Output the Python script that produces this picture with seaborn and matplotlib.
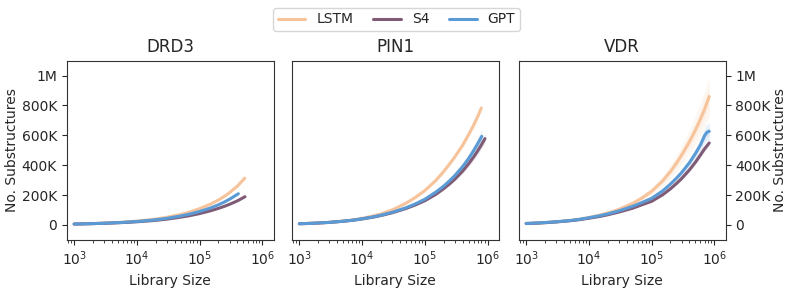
import numpy as np
import pandas as pd
import matplotlib
matplotlib.use("Agg")
import matplotlib.pyplot as plt
import seaborn as sns
from matplotlib.ticker import FixedLocator, FuncFormatter

sns.set_style("ticks")
plt.rcParams['font.family'] = ['DejaVu Sans']

targets = ["DRD3", "PIN1", "VDR"]
models = ["LSTM", "S4", "GPT"]
colors = {"LSTM": "#f6c39b", "S4": "#7f5b76", "GPT": "#5b9bd5"}

# library sizes (x), number of substructures in thousands (y), band half-width in thousands (s)
drd3_lstm_x = [1e3, 1.5e3, 2e3, 3e3, 5e3, 7e3, 1e4, 1.5e4, 2e4, 3e4, 5e4, 7e4, 1e5, 1.5e5, 2e5, 2.5e5, 3e5, 4e5, 5.25e5]
drd3_lstm_y = [6, 7.8, 9.3, 12, 16.5, 20.4, 25.5, 33, 39.5, 51, 70, 87, 109, 140, 167, 192, 216, 260, 313]
drd3_lstm_s = [0, 0, 0, 0, 0, 0, 0, 0, 1, 1, 1, 1, 2, 2, 3, 3, 4, 5, 6]
drd3_gpt_x = [1e3, 1.5e3, 2e3, 3e3, 5e3, 7e3, 1e4, 1.5e4, 2e4, 3e4, 5e4, 7e4, 1e5, 1.5e5, 2e5, 2.5e5, 3e5, 4.15e5]
drd3_gpt_y = [6, 7.6, 9.0, 11.4, 15.5, 18.8, 23.3, 29.6, 34.9, 44, 60, 73, 90, 114, 135, 154, 172, 209]
drd3_gpt_s = [0, 0, 0, 0, 0, 0, 0, 0, 1, 1, 1, 1, 2, 2, 3, 4, 5, 7]
drd3_s4_x = [1e3, 1.5e3, 2e3, 3e3, 5e3, 7e3, 1e4, 1.5e4, 2e4, 3e4, 5e4, 7e4, 1e5, 1.5e5, 2e5, 2.5e5, 3e5, 4e5, 5.3e5]
drd3_s4_y = [6, 7.5, 8.8, 11, 14.5, 17.4, 21.2, 26.5, 31, 38.7, 52, 62.5, 76, 95, 111, 125, 138, 161, 189]
drd3_s4_s = [0, 0, 0, 0, 0, 0, 0, 0, 1, 1, 1, 1, 2, 2, 2, 3, 3, 4, 4]

pin1_lstm_x = [1e3, 1.5e3, 2e3, 3e3, 5e3, 7e3, 1e4, 1.5e4, 2e4, 3e4, 5e4, 7e4, 1e5, 1.5e5, 2e5, 2.5e5, 3e5, 4e5, 5e5, 6e5, 7e5, 7.95e5]
pin1_lstm_y = [8, 10.5, 13, 17.5, 26, 33, 44, 60, 74, 100, 145, 183, 230, 298, 358, 410, 455, 533, 605, 668, 728, 783]
pin1_lstm_s = [0, 0, 0, 0, 0, 1, 1, 2, 2, 3, 4, 5, 6, 8, 10, 12, 14, 17, 20, 22, 24, 26]
pin1_gpt_x = [1e3, 1.5e3, 2e3, 3e3, 5e3, 7e3, 1e4, 1.5e4, 2e4, 3e4, 5e4, 7e4, 1e5, 1.5e5, 2e5, 2.5e5, 3e5, 4e5, 5e5, 6e5, 7e5, 8.1e5]
pin1_gpt_y = [8, 10.5, 13, 17, 25, 31.5, 41, 54, 65, 84, 115, 140, 172, 220, 260, 297, 330, 390, 445, 497, 545, 593]
pin1_gpt_s = [0, 0, 0, 0, 0, 1, 1, 2, 2, 3, 4, 6, 8, 11, 14, 17, 20, 26, 32, 37, 42, 48]
pin1_s4_x = [1e3, 1.5e3, 2e3, 3e3, 5e3, 7e3, 1e4, 1.5e4, 2e4, 3e4, 5e4, 7e4, 1e5, 1.5e5, 2e5, 2.5e5, 3e5, 4e5, 5e5, 6e5, 7e5, 8e5, 9.1e5]
pin1_s4_y = [8, 10.5, 13, 17, 24.5, 31, 40, 52, 63, 81, 110, 133, 162, 205, 243, 276, 306, 360, 410, 455, 497, 537, 578]
pin1_s4_s = [0, 0, 0, 0, 0, 1, 1, 1, 2, 2, 3, 4, 6, 8, 10, 12, 14, 17, 20, 23, 25, 27, 30]

vdr_lstm_x = [1e3, 1.5e3, 2e3, 3e3, 5e3, 7e3, 1e4, 1.5e4, 2e4, 3e4, 5e4, 7e4, 1e5, 1.5e5, 2e5, 2.5e5, 3e5, 4e5, 5e5, 6e5, 7e5, 8.3e5]
vdr_lstm_y = [10, 13, 16, 21, 30, 38, 50, 66, 80, 104, 145, 180, 225, 295, 358, 415, 467, 556, 635, 708, 775, 860]
vdr_lstm_s = [0, 0, 0, 0, 1, 2, 3, 4, 6, 9, 14, 19, 26, 36, 46, 56, 66, 80, 95, 108, 120, 133]
vdr_gpt_x = [1e3, 1.5e3, 2e3, 3e3, 5e3, 7e3, 1e4, 1.5e4, 2e4, 3e4, 5e4, 7e4, 1e5, 1.5e5, 2e5, 2.5e5, 3e5, 4e5, 5e5, 6e5, 7e5, 7.6e5, 8.3e5]
vdr_gpt_y = [10, 13, 16, 21, 29.5, 37, 48, 62, 74, 94, 125, 150, 178, 228, 274, 314, 350, 416, 478, 535, 598, 620, 627]
vdr_gpt_s = [0, 0, 0, 0, 0, 1, 1, 2, 2, 3, 5, 7, 9, 12, 16, 20, 24, 31, 38, 45, 52, 55, 58]
vdr_s4_x = [1e3, 1.5e3, 2e3, 3e3, 5e3, 7e3, 1e4, 1.5e4, 2e4, 3e4, 5e4, 7e4, 1e5, 1.5e5, 2e5, 2.5e5, 3e5, 4e5, 5e5, 6e5, 7e5, 8.3e5]
vdr_s4_y = [9, 12, 15, 20, 28, 35, 45, 57, 68, 86, 112, 135, 158, 202, 242, 278, 310, 368, 420, 468, 510, 549]
vdr_s4_s = [0, 0, 0, 0, 0, 0, 1, 1, 1, 2, 3, 4, 5, 6, 8, 9, 10, 12, 14, 16, 18, 20]

series = {
    ("DRD3", "LSTM"): (drd3_lstm_x, drd3_lstm_y, drd3_lstm_s),
    ("DRD3", "GPT"): (drd3_gpt_x, drd3_gpt_y, drd3_gpt_s),
    ("DRD3", "S4"): (drd3_s4_x, drd3_s4_y, drd3_s4_s),
    ("PIN1", "LSTM"): (pin1_lstm_x, pin1_lstm_y, pin1_lstm_s),
    ("PIN1", "GPT"): (pin1_gpt_x, pin1_gpt_y, pin1_gpt_s),
    ("PIN1", "S4"): (pin1_s4_x, pin1_s4_y, pin1_s4_s),
    ("VDR", "LSTM"): (vdr_lstm_x, vdr_lstm_y, vdr_lstm_s),
    ("VDR", "GPT"): (vdr_gpt_x, vdr_gpt_y, vdr_gpt_s),
    ("VDR", "S4"): (vdr_s4_x, vdr_s4_y, vdr_s4_s),
}

rows = []
for (t, m), (xs, ys, ss) in series.items():
    for x, y, s in zip(xs, ys, ss):
        rows.append({"target": t, "model": m, "size": x, "n": y * 1000, "s": s * 1000})
df = pd.DataFrame(rows)

fig = plt.figure(figsize=(7.93, 2.89), dpi=100)
lefts = [0.084, 0.368, 0.654]
axes = [fig.add_axes([l, 0.170, 0.261, 0.620]) for l in lefts]

def fmt(v, pos):
    if v == 0:
        return "0"
    if v >= 1e6:
        return f"{v/1e6:g}M"
    return f"{v/1e3:g}K"

for i, (ax, t) in enumerate(zip(axes, targets)):
    sub = df[df.target == t]
    for m in models:
        d = sub[sub.model == m]
        ax.fill_between(d["size"], d["n"] - d["s"], d["n"] + d["s"],
                        color=colors[m], alpha=0.12, lw=0)
        ax.fill_between(d["size"], d["n"] - d["s"] / 2, d["n"] + d["s"] / 2,
                        color=colors[m], alpha=0.12, lw=0)
    sns.lineplot(data=sub, x="size", y="n", hue="model", hue_order=models,
                 palette=colors, lw=2.2, ax=ax, legend=(i == 0))
    ax.set_xscale("log")
    ax.set_xlim(10 ** 2.88, 10 ** 6.18)
    ax.set_ylim(-100000, 1100000)
    ax.yaxis.set_major_locator(FixedLocator([0, 2e5, 4e5, 6e5, 8e5, 1e6]))
    ax.yaxis.set_major_formatter(FuncFormatter(fmt))
    ax.set_title(t, fontsize=12)
    ax.set_xlabel("Library Size", fontsize=10)
    ax.tick_params(labelsize=10)
    for sp in ax.spines.values():
        sp.set_color("#333333")
    if i == 0:
        ax.set_ylabel("No. Substructures", fontsize=10, labelpad=2)
    elif i == 1:
        ax.set_ylabel("")
        ax.set_yticks([])
    else:
        ax.yaxis.tick_right()
        ax.yaxis.set_label_position("right")
        ax.set_ylabel("No. Substructures", fontsize=10, labelpad=2)

handles, labels = axes[0].get_legend_handles_labels()
axes[0].get_legend().remove()
fig.legend(handles, labels, loc="center", bbox_to_anchor=(0.5, 0.933), ncol=3,
           frameon=True, fontsize=10, columnspacing=1.4, handlelength=2.0,
           borderpad=0.3)

fig.savefig("out.png", dpi=100)
